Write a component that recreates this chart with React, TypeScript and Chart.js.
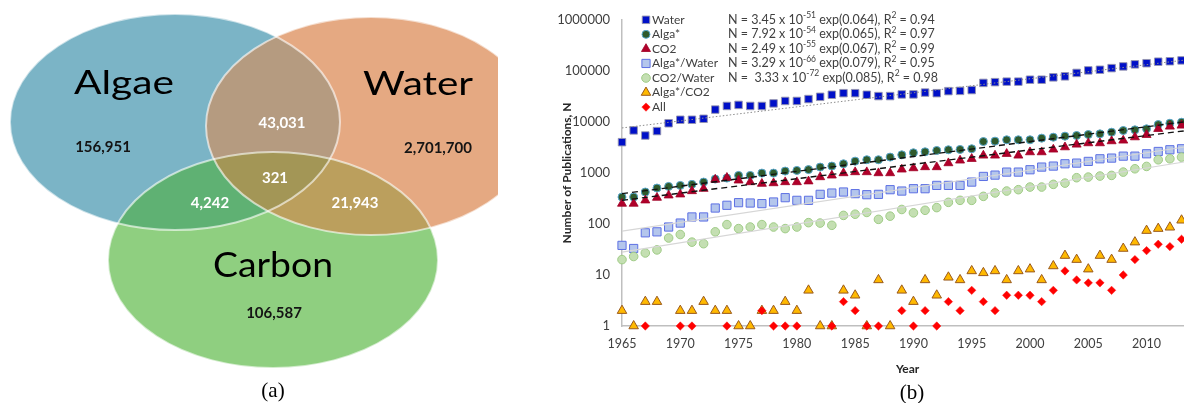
import React, { useEffect, useRef } from 'react';
import { Chart, registerables } from 'chart.js';

Chart.register(...registerables);

const FONT = 'Lato, "Open Sans", "DejaVu Sans", sans-serif';

// ---------------- Panel (a): Venn data ----------------
const vennSets = ['Algae', 'Water', 'Carbon'];
const vennRegions = ['Algae', 'Water', 'Carbon', 'Algae+Water', 'Algae+Carbon', 'Water+Carbon', 'All'];
const vennCounts = [156951, 2701700, 106587, 43031, 4242, 21943, 321];

// ---------------- Panel (b): publications data ----------------
const years = [
  1965, 1966, 1967, 1968, 1969, 1970, 1971, 1972, 1973, 1974,
  1975, 1976, 1977, 1978, 1979, 1980, 1981, 1982, 1983, 1984,
  1985, 1986, 1987, 1988, 1989, 1990, 1991, 1992, 1993, 1994,
  1995, 1996, 1997, 1998, 1999, 2000, 2001, 2002, 2003, 2004,
  2005, 2006, 2007, 2008, 2009, 2010, 2011, 2012, 2013,
];
const waterCounts = [
  4000, 6800, 5400, 6600, 9400, 11000, 11000, 11500, 17400, 20500,
  21500, 20500, 20500, 23000, 25700, 25700, 28000, 31000, 34000, 36500,
  36500, 34000, 32000, 32000, 34500, 34500, 37500, 36500, 40000, 40500,
  42000, 58000, 60000, 61400, 61400, 67000, 67000, 74500, 78000, 91000,
  102000, 105000, 113000, 122000, 134000, 141000, 151000, 154000, 160000,
];
const algaCounts = [
  336, 336, 422, 505, 544, 569, 596, 661, 757, 790,
  893, 893, 991, 991, 1085, 1118, 1160, 1300, 1360, 1510,
  1700, 1810, 1810, 2040, 2260, 2480, 2590, 2750, 2840, 2880,
  2970, 4120, 4190, 4450, 4450, 4450, 4800, 5010, 5250, 5410,
  5650, 5820, 6280, 6770, 6970, 7300, 8860, 9400, 9840,
];
const co2Counts = [
  250, 250, 290, 327, 363, 380, 441, 490, 740, 805,
  713, 661, 615, 631, 661, 661, 685, 828, 893, 991,
  1037, 1037, 991, 991, 1170, 1240, 1300, 1300, 1555, 1755,
  1890, 2195, 2195, 2370, 2195, 2550, 2550, 2880, 3190, 3600,
  3830, 3830, 4190, 4320, 5010, 5570, 7300, 8110, 8480,
];
const algaWaterCounts = [
  38, 33, 67, 70, 87, 104, 137, 137, 205, 232,
  261, 257, 250, 269, 327, 290, 290, 380, 403, 422,
  392, 374, 380, 469, 441, 490, 490, 569, 569, 569,
  661, 853, 905, 1037, 1037, 1153, 1300, 1360, 1510, 1555,
  1680, 1890, 1950, 2130, 2130, 2370, 2630, 2840, 2970,
];
const co2WaterCounts = [
  20, 23, 27, 31, 53, 62, 44, 41, 70, 97,
  81, 87, 97, 87, 81, 87, 106, 104, 94, 147,
  155, 168, 123, 142, 192, 165, 185, 209, 265, 290,
  290, 347, 405, 441, 469, 528, 528, 596, 631, 805,
  828, 867, 893, 1037, 1205, 1339, 1810, 1890, 2040,
];
const algaCo2Counts = [
  2, 1, 3, 3, null, 2, 2, 3, 2, 2,
  1, 1, 2, 2, 3, 2, 5, 1, 1, 5,
  4, 1, 8, 1, 5, 3, 8, 4, 9, 8,
  12, 11, 12, 8, 12, 13, 8, 15, 24, 20,
  13, 24, 20, 33, 44, 74, 81, 86, 118,
];
const allCounts = [
  null, null, 1, null, null, 1, 1, null, null, 1,
  null, null, 2, 1, 1, 1, null, null, 1, 3,
  2, 1, 1, null, 2, 1, 2, 1, 3, 2,
  5, 3, 2, 4, 4, 4, 3, 5, 12, 8,
  7, 7, 5, 10, 20, 30, 40, 36, 50,
];
const seriesNames = ['Water', 'Alga*', 'CO2', 'Alga*/Water', 'CO2/Water', 'Alga*/CO2', 'All'];
const seriesValues = [waterCounts, algaCounts, co2Counts, algaWaterCounts, co2WaterCounts, algaCo2Counts, allCounts];

// exponential fits (text) and trend lines
const fitCoefficients = ['3.45', '7.92', '2.49', '3.29', ' 3.33'];
const fitExponents = ['-51', '-54', '-55', '-66', '-72'];
const fitRates = ['0.064', '0.065', '0.067', '0.079', '0.085'];
const fitR2 = ['0.94', '0.97', '0.99', '0.95', '0.98'];
const trendYears = [1965, 2014];
const waterTrend = [7600, 170000];
const algaTrend = [392, 10500];
const co2Trend = [290, 7000];
const algaWaterTrend = [72, 3400];
const co2WaterTrend = [28, 1750];
const trendValues = [waterTrend, algaTrend, co2Trend, algaWaterTrend, co2WaterTrend];

const xTickValues = [1965, 1970, 1975, 1980, 1985, 1990, 1995, 2000, 2005, 2010];
const yTickValues = [1, 10, 100, 1000, 10000, 100000, 1000000];

// ---------------- layout / styles (not data) ----------------
const VENN_SHAPES = [
  { cx: 175, cy: 122, rx: 165, ry: 108 },
  { cx: 371, cy: 126, rx: 165, ry: 109 },
  { cx: 273, cy: 260, rx: 165, ry: 108 },
];
const VENN_CLIP_RIGHT = 498;
const VENN_FILLS = ['#7bb4c6', '#e5a982', '#8fcf80', '#b59b80', '#5fb173', '#bb9f5d', '#a39656'];
const VENN_TITLE_POS = [
  { x: 124, y: 94, w: 100, size: 33 },
  { x: 418, y: 95, w: 110, size: 33 },
  { x: 273, y: 277, w: 120, size: 34 },
];
const VENN_COUNT_POS = [
  { x: 103, y: 152 },
  { x: 438, y: 153 },
  { x: 274, y: 318 },
  { x: 282, y: 128 },
  { x: 210, y: 208 },
  { x: 355, y: 208 },
  { x: 275, y: 183 },
];
const VENN_COUNT_COLORS = ['#141414', '#141414', '#141414', '#ffffff', '#ffffff', '#ffffff', '#ffffff'];

type MarkerStyle = { shape: string; r: number; fill: string; stroke: string; bw: number };
const SERIES_STYLE: MarkerStyle[] = [
  { shape: 'rect', r: 5.3, fill: '#0010c8', stroke: 'rgba(150,150,175,0.9)', bw: 1 },
  { shape: 'circle', r: 4, fill: '#2f5a2c', stroke: '#58a6cc', bw: 1 },
  { shape: 'triangle', r: 5.2, fill: '#b0002a', stroke: '#a00026', bw: 0.8 },
  { shape: 'rect', r: 5.8, fill: '#b4c6ec', stroke: '#5d70e4', bw: 1 },
  { shape: 'circle', r: 4.3, fill: '#c4dfb2', stroke: '#9fcb86', bw: 1 },
  { shape: 'triangle', r: 5.5, fill: '#ffb900', stroke: '#9a5a1c', bw: 1 },
  { shape: 'rectRot', r: 4.2, fill: '#ff0000', stroke: '#ff1010', bw: 0.5 },
];
const TREND_STYLE = [
  { color: '#8c8c8c', width: 1, dash: [1.5, 2] },
  { color: '#111111', width: 1.4, dash: [6, 4] },
  { color: '#111111', width: 1.4, dash: [6, 4] },
  { color: '#d6d6d6', width: 1.2, dash: [] as number[] },
  { color: '#d6d6d6', width: 1.2, dash: [] as number[] },
];
const LEGEND = { markerDx: 24, textDx: 30, eqDx: 106, rowH: 14.55 };

function drawMarker(ctx: CanvasRenderingContext2D, s: MarkerStyle, x: number, y: number) {
  ctx.save();
  ctx.fillStyle = s.fill;
  ctx.strokeStyle = s.stroke;
  ctx.lineWidth = s.bw;
  ctx.beginPath();
  const r = s.r;
  if (s.shape === 'rect') {
    const h = r * Math.SQRT1_2;
    ctx.rect(x - h, y - h, 2 * h, 2 * h);
  } else if (s.shape === 'circle') {
    ctx.arc(x, y, r, 0, Math.PI * 2);
  } else if (s.shape === 'triangle') {
    let a = 0;
    ctx.moveTo(x + Math.sin(a) * r, y - Math.cos(a) * r);
    a += (2 * Math.PI) / 3;
    ctx.lineTo(x + Math.sin(a) * r, y - Math.cos(a) * r);
    a += (2 * Math.PI) / 3;
    ctx.lineTo(x + Math.sin(a) * r, y - Math.cos(a) * r);
    ctx.closePath();
  } else {
    ctx.moveTo(x, y - r);
    ctx.lineTo(x + r, y);
    ctx.lineTo(x, y + r);
    ctx.lineTo(x - r, y);
    ctx.closePath();
  }
  ctx.fill();
  if (s.bw > 0) ctx.stroke();
  ctx.restore();
}

const vennPlugin = {
  id: 'vennDiagram',
  afterDraw(chart: any) {
    const ctx: CanvasRenderingContext2D = chart.ctx;
    const sx = chart.scales.x;
    const sy = chart.scales.y;
    const path = (i: number) => {
      const e = VENN_SHAPES[i];
      const cx = sx.getPixelForValue(e.cx);
      const cy = sy.getPixelForValue(e.cy);
      const rx = Math.abs(sx.getPixelForValue(e.cx + e.rx) - cx);
      const ry = Math.abs(sy.getPixelForValue(e.cy + e.ry) - cy);
      ctx.beginPath();
      ctx.ellipse(cx, cy, rx, ry, 0, 0, Math.PI * 2);
    };
    ctx.save();
    ctx.beginPath();
    ctx.rect(0, 0, sx.getPixelForValue(VENN_CLIP_RIGHT), chart.height);
    ctx.clip();
    vennSets.forEach((_, i) => {
      path(i);
      ctx.fillStyle = VENN_FILLS[i];
      ctx.fill();
    });
    const inter = (clipIdx: number[], fillIdx: number, color: string) => {
      ctx.save();
      clipIdx.forEach((j) => {
        path(j);
        ctx.clip();
      });
      path(fillIdx);
      ctx.fillStyle = color;
      ctx.fill();
      ctx.restore();
    };
    inter([0], 1, VENN_FILLS[3]);
    inter([0], 2, VENN_FILLS[4]);
    inter([1], 2, VENN_FILLS[5]);
    inter([0, 1], 2, VENN_FILLS[6]);
    vennSets.forEach((_, i) => {
      path(i);
      ctx.strokeStyle = 'rgba(255,255,255,0.6)';
      ctx.lineWidth = 2;
      ctx.stroke();
    });
    ctx.restore();

    // set titles
    ctx.save();
    ctx.fillStyle = '#000000';
    ctx.textAlign = 'center';
    ctx.textBaseline = 'alphabetic';
    vennSets.forEach((name, i) => {
      const p = VENN_TITLE_POS[i];
      ctx.font = `${p.size}px ${FONT}`;
      const w = ctx.measureText(name).width;
      ctx.save();
      ctx.translate(sx.getPixelForValue(p.x), sy.getPixelForValue(p.y));
      ctx.scale(p.w / w, 1);
      ctx.fillText(name, 0, 0);
      ctx.restore();
    });
    // region counts
    ctx.font = `bold 15px ${FONT}`;
    vennRegions.forEach((_, i) => {
      const p = VENN_COUNT_POS[i];
      ctx.fillStyle = VENN_COUNT_COLORS[i];
      ctx.fillText(vennCounts[i].toLocaleString('en-US'), sx.getPixelForValue(p.x), sy.getPixelForValue(p.y));
    });
    ctx.restore();
  },
};

const legendPlugin = {
  id: 'pubLegend',
  afterDraw(chart: any) {
    const ctx: CanvasRenderingContext2D = chart.ctx;
    const { left, top } = chart.chartArea;
    ctx.save();
    ctx.textBaseline = 'middle';
    ctx.textAlign = 'left';
    seriesNames.forEach((name, i) => {
      const y = top + i * LEGEND.rowH;
      drawMarker(ctx, SERIES_STYLE[i], left + LEGEND.markerDx, y);
      ctx.fillStyle = '#404040';
      ctx.font = `12px ${FONT}`;
      ctx.fillText(name, left + LEGEND.textDx, y);
    });
    fitCoefficients.forEach((c, i) => {
      const y = top + i * LEGEND.rowH;
      let x = left + LEGEND.eqDx;
      const parts: [string, boolean][] = [
        [`N = ${c} x 10`, false],
        [fitExponents[i], true],
        [` exp(${fitRates[i]}), R`, false],
        ['2', true],
        [` = ${fitR2[i]}`, false],
      ];
      ctx.fillStyle = '#404040';
      for (const [t, sup] of parts) {
        ctx.font = sup ? `8.5px ${FONT}` : `12.5px ${FONT}`;
        ctx.fillText(t, x, sup ? y - 4.5 : y);
        x += ctx.measureText(t).width;
      }
    });
    ctx.restore();
  },
};

function pubConfig(): any {
  const pointSets = seriesValues.map((vals, i) => {
    const s = SERIES_STYLE[i];
    return {
      type: 'scatter',
      label: seriesNames[i],
      data: years
        .map((x, k) => ({ x, y: vals[k] }))
        .filter((p) => p.y !== null && p.y !== undefined),
      pointStyle: s.shape,
      pointRadius: s.r,
      pointBackgroundColor: s.fill,
      pointBorderColor: s.stroke,
      pointBorderWidth: s.bw,
      showLine: false,
      clip: false,
      order: 10 - i,
    };
  });
  const trendSets = trendValues.map((vals, i) => ({
    type: 'line',
    label: seriesNames[i] + ' fit',
    data: trendYears.map((x, k) => ({ x, y: vals[k] })),
    borderColor: TREND_STYLE[i].color,
    borderWidth: TREND_STYLE[i].width,
    borderDash: TREND_STYLE[i].dash,
    pointRadius: 0,
    fill: false,
    tension: 0,
    order: 1,
  }));
  return {
    type: 'scatter',
    data: { datasets: [...pointSets, ...trendSets] },
    options: {
      animation: false,
      responsive: false,
      maintainAspectRatio: false,
      events: [],
      layout: { padding: { left: 16, top: 19, right: 4, bottom: 0 } },
      plugins: { legend: { display: false }, tooltip: { enabled: false } },
      scales: {
        x: {
          type: 'linear',
          min: 1965,
          max: 2014,
          afterBuildTicks: (s: any) => {
            s.ticks = xTickValues.map((v) => ({ value: v }));
          },
          afterFit: (s: any) => {
            s.height = 54;
          },
          grid: { display: false, drawTicks: false },
          border: { display: true, color: '#bfbfbf', width: 1.5 },
          ticks: {
            padding: 10,
            color: '#404040',
            font: { family: FONT, size: 12.5 },
            maxRotation: 0,
            autoSkip: false,
            callback: (v: any) => String(v),
          },
          title: {
            display: true,
            text: 'Year',
            color: '#262626',
            font: { family: FONT, size: 12, weight: 'bold' },
            padding: { top: 4, bottom: 4 },
          },
        },
        y: {
          type: 'logarithmic',
          min: 1,
          max: 1000000,
          afterBuildTicks: (s: any) => {
            s.ticks = yTickValues.map((v) => ({ value: v }));
          },
          afterFit: (s: any) => {
            s.width = 66;
          },
          grid: { display: false, drawTicks: false },
          border: { display: true, color: '#bfbfbf', width: 1.5 },
          ticks: {
            padding: 12,
            color: '#404040',
            font: { family: FONT, size: 13 },
            autoSkip: false,
            callback: (v: any) => String(v),
          },
          title: {
            display: true,
            text: 'Number of Publications, N',
            color: '#262626',
            font: { family: FONT, size: 12, weight: 'bold' },
            padding: { top: 4, bottom: 4 },
          },
        },
      },
    },
    plugins: [legendPlugin],
  };
}

function vennConfig(): any {
  return {
    type: 'scatter',
    data: { datasets: [] },
    options: {
      animation: false,
      responsive: false,
      maintainAspectRatio: false,
      events: [],
      layout: { padding: 0 },
      plugins: { legend: { display: false }, tooltip: { enabled: false } },
      scales: {
        x: { type: 'linear', min: 0, max: 540, display: false },
        y: { type: 'linear', min: 0, max: 403, reverse: true, display: false },
      },
    },
    plugins: [vennPlugin],
  };
}

export default function App() {
  const aRef = useRef<HTMLCanvasElement>(null);
  const bRef = useRef<HTMLCanvasElement>(null);
  useEffect(() => {
    const ca = new Chart(aRef.current as HTMLCanvasElement, vennConfig());
    const cb = new Chart(bRef.current as HTMLCanvasElement, pubConfig());
    return () => {
      ca.destroy();
      cb.destroy();
    };
  }, []);
  const capStyle: React.CSSProperties = {
    position: 'absolute',
    width: 100,
    textAlign: 'center',
    fontFamily: '"Liberation Serif", "Times New Roman", serif',
    fontSize: 21,
    lineHeight: '26px',
    color: '#000',
  };
  return (
    <div style={{ position: 'absolute', left: 0, top: 0, width: 1184, height: 403, overflow: 'hidden', background: '#ffffff' }}>
      <canvas ref={aRef} width={540} height={403} style={{ position: 'absolute', left: 0, top: 0 }} />
      <div style={{ position: 'absolute', left: 540, top: 0, width: 644, height: 403, overflow: 'hidden' }}>
        <canvas ref={bRef} width={660} height={380} style={{ position: 'absolute', left: 0, top: 0 }} />
      </div>
      <div style={{ ...capStyle, left: 223, top: 377 }}>(a)</div>
      <div style={{ ...capStyle, left: 862, top: 379 }}>(b)</div>
    </div>
  );
}
